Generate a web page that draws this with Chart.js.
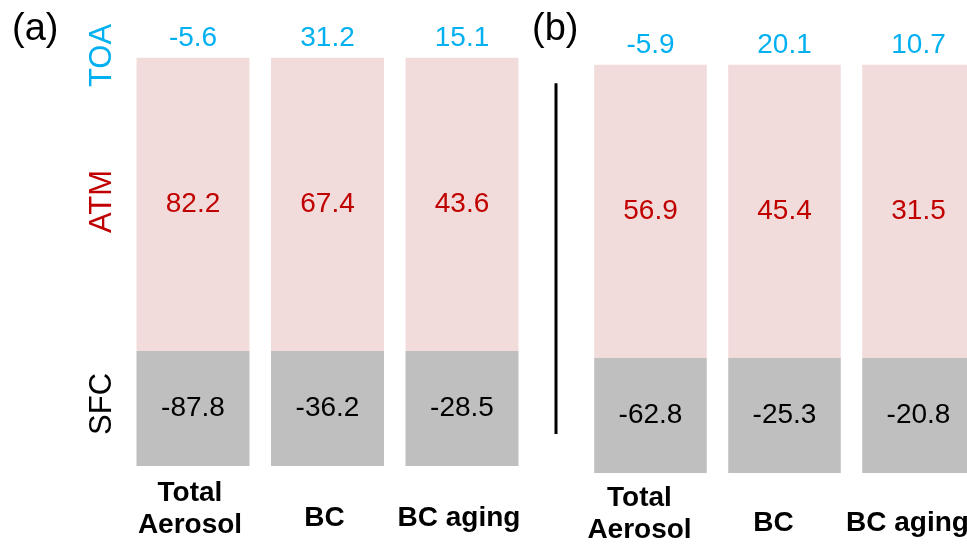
<!DOCTYPE html>
<html>
<head>
<meta charset="utf-8">
<script src="https://cdn.jsdelivr.net/npm/chart.js@4/dist/chart.umd.min.js"></script>
<style>
  html, body { margin: 0; padding: 0; background: #ffffff; overflow: hidden; width: 967px; height: 546px; }
  .panel { position: absolute; top: 0; }
  #panelA { left: 0; }
  #panelB { left: 520px; }
</style>
</head>
<body>
<canvas id="panelA" class="panel" width="556" height="590"></canvas>
<canvas id="panelB" class="panel" width="490" height="590"></canvas>
<script>
// Column and row names
const categories = [['Total', 'Aerosol'], 'BC', 'BC aging'];
const rowNames = ['TOA', 'ATM', 'SFC'];

// Panel (a) values, W m-2
const toaA = [-5.6, 31.2, 15.1];
const atmA = [82.2, 67.4, 43.6];
const sfcA = [-87.8, -36.2, -28.5];

// Panel (b) values, W m-2
const toaB = [-5.9, 20.1, 10.7];
const atmB = [56.9, 45.4, 31.5];
const sfcB = [-62.8, -25.3, -20.8];

// Table layout: each row is a band on the (hidden) y scale, in row units
const ROW_BANDS = { TOA: [3.55, 3.89], ATM: [1, 3.55], SFC: [0, 1] };
const ROW_TITLE_AT = { TOA: 3.57, ATM: 2.30, SFC: 0.54 };
const ROW_STYLE = {
  TOA: { fill: 'rgba(0,0,0,0)', text: '#00B0F0' },
  ATM: { fill: '#F2DCDB', text: '#C00000' },
  SFC: { fill: '#BFBFBF', text: '#000000' }
};
const FAMILY = '"Liberation Sans", Arial, Helvetica, sans-serif';

function cellDatasets(values) {
  return rowNames.map(row => ({
    label: row,
    data: categories.map(() => ROW_BANDS[row].slice()),
    values: values[row],
    backgroundColor: ROW_STYLE[row].fill,
    textColor: ROW_STYLE[row].text,
    borderWidth: 0
  }));
}

// Writes the values in the cells, the row titles, the panel tag and the separator
const tableText = {
  id: 'tableText',
  afterDatasetsDraw(chart, args, opts) {
    const ctx = chart.ctx;
    const area = chart.chartArea;
    const yScale = chart.scales.y;

    chart.data.datasets.forEach((ds, di) => {
      const meta = chart.getDatasetMeta(di);
      meta.data.forEach((bar, i) => {
        ctx.save();
        ctx.font = '28px ' + FAMILY;
        ctx.fillStyle = ds.textColor;
        ctx.textAlign = 'center';
        ctx.textBaseline = 'middle';
        ctx.fillText(ds.values[i].toFixed(1), bar.x, (bar.y + bar.base) / 2);
        ctx.restore();
      });
    });

    if (opts.rowTitles) {
      rowNames.forEach(row => {
        ctx.save();
        ctx.translate(area.left - 23, yScale.getPixelForValue(ROW_TITLE_AT[row]));
        ctx.rotate(-Math.PI / 2);
        ctx.font = '31px ' + FAMILY;
        ctx.fillStyle = ROW_STYLE[row].text;
        ctx.textAlign = 'center';
        ctx.textBaseline = 'middle';
        ctx.fillText(row, 0, 0);
        ctx.restore();
      });
    }

    if (opts.separator) {
      ctx.save();
      ctx.strokeStyle = '#000000';
      ctx.lineWidth = 3;
      const x = area.left - 27.5;
      ctx.beginPath();
      ctx.moveTo(x, yScale.getPixelForValue(opts.separator[0]));
      ctx.lineTo(x, yScale.getPixelForValue(opts.separator[1]));
      ctx.stroke();
      ctx.restore();
    }

    if (opts.tag) {
      ctx.save();
      ctx.font = '38px ' + FAMILY;
      ctx.fillStyle = '#000000';
      ctx.textAlign = 'left';
      ctx.textBaseline = 'middle';
      ctx.fillText(opts.tag, 12, 30);
      ctx.restore();
    }
  }
};

// Single-line column names sit a little below the middle of the two-line block
function tickFont(ctx) {
  const twoLines = Array.isArray(categories[ctx.index]);
  return { family: FAMILY, size: 28, weight: 'bold', lineHeight: twoLines ? 1.16 : 0.52 };
}

function makePanel(canvasId, values, cfg) {
  return new Chart(document.getElementById(canvasId), {
    type: 'bar',
    data: { labels: categories, datasets: cellDatasets(values) },
    plugins: [tableText],
    options: {
      responsive: false,
      animation: false,
      devicePixelRatio: 1,
      layout: { padding: cfg.padding },
      datasets: { bar: { grouped: false, barPercentage: 0.84, categoryPercentage: 1 } },
      plugins: {
        legend: { display: false },
        tooltip: { enabled: false },
        tableText: { tag: cfg.tag, rowTitles: cfg.rowTitles, separator: cfg.separator }
      },
      scales: {
        x: {
          type: 'category',
          offset: true,
          grid: { display: false, drawTicks: false },
          border: { display: false },
          ticks: {
            color: '#000000',
            font: tickFont,
            padding: cfg.tickPadding,
            crossAlign: 'center',
            labelOffset: cfg.labelOffset,
            autoSkip: false,
            maxRotation: 0,
            minRotation: 0
          }
        },
        y: { type: 'linear', display: false, min: 0, max: 4 }
      }
    }
  });
}

makePanel('panelA', { TOA: toaA, ATM: atmA, SFC: sfcA }, {
  tag: '(a)',
  rowTitles: true,
  padding: { left: 125.75, right: 26.75, top: 6, bottom: 5 },
  tickPadding: 27,
  labelOffset: -3
});

makePanel('panelB', { TOA: toaB, ATM: atmB, SFC: sfcB }, {
  tag: '(b)',
  rowTitles: false,
  separator: [0.34, 3.39],
  padding: { left: 63.5, right: 24.5, top: 13, bottom: 2 },
  tickPadding: 25,
  labelOffset: -11
});
</script>
</body>
</html>
